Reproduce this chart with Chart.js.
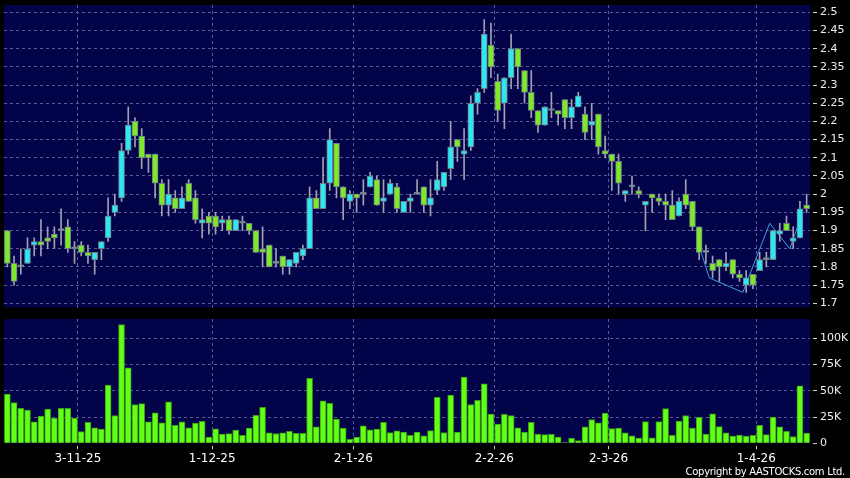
<!DOCTYPE html>
<html>
<head>
<meta charset="utf-8">
<script src="https://cdn.jsdelivr.net/npm/chart.js@4.4.1/dist/chart.umd.min.js"></script>
<style>
  html, body { margin: 0; padding: 0; background: #000; }
  #wrap { position: relative; width: 850px; height: 478px; background: #000; overflow: hidden; }
  #priceChart { position: absolute; left: 0; top: 0; }
  #volChart { position: absolute; left: 0; top: 312px; }
  #copy { position: absolute; right: 5px; top: 466px; color: #fff; font: 10px "DejaVu Sans", sans-serif; letter-spacing: -0.3px; line-height: 11px; white-space: nowrap; }
</style>
</head>
<body>
<div id="wrap">
  <canvas id="priceChart" width="850" height="312"></canvas>
  <canvas id="volChart" width="850" height="166"></canvas>
  <div id="copy">Copyright by AASTOCKS.com Ltd.</div>
</div>
<script>
// daily candles, oldest first
const open  = [1.90,1.81,1.80,1.81,1.86,1.87,1.88,1.89,1.90,1.91, 1.85,1.86,1.84,1.82,1.85,1.88,1.95,1.99,2.12,2.20,
               2.16,2.11,2.11,2.03,1.97,1.99,1.96,2.03,1.99,1.92, 1.94,1.94,1.92,1.93,1.90,1.92,1.92,1.90,1.85,1.86,
               1.81,1.83,1.80,1.81,1.83,1.85,1.99,1.96,2.03,2.14, 2.02,1.98,2.00,2.00,2.02,2.04,1.98,2.00,2.02,1.95,
               1.98,2.00,2.02,1.97,2.01,2.02,2.07,2.15,2.11,2.13, 2.25,2.29,2.41,2.31,2.25,2.32,2.40,2.34,2.28,2.23,
               2.19,2.23,2.23,2.26,2.21,2.24,2.22,2.19,2.22,2.12, 2.11,2.09,2.00,2.02,2.01,1.97,2.00,1.99,1.98,1.97,
               1.94,2.00,1.98,1.91,1.84,1.81,1.82,1.80,1.82,1.78, 1.75,1.78,1.79,1.82,1.82,1.89,1.92,1.87,1.88,1.97];
const high  = [1.90,1.83,1.85,1.88,1.88,1.93,1.91,1.91,1.96,1.93, 1.87,1.87,1.86,1.84,1.87,1.99,2.00,2.14,2.24,2.21,
               2.18,2.11,2.11,2.04,2.04,2.01,2.02,2.04,2.01,1.96, 1.95,1.95,1.94,1.94,1.93,1.94,1.92,1.90,1.91,1.86,
               1.85,1.83,1.82,1.84,1.86,2.02,2.01,2.10,2.18,2.14, 2.02,2.01,2.00,2.04,2.06,2.05,2.04,2.04,2.03,1.98,
               2.00,2.04,2.02,2.04,2.09,2.06,2.20,2.15,2.18,2.27, 2.29,2.48,2.47,2.33,2.32,2.44,2.40,2.34,2.34,2.23,
               2.24,2.28,2.23,2.26,2.26,2.28,2.24,2.25,2.22,2.16, 2.11,2.11,2.01,2.05,2.02,1.98,2.00,2.00,2.00,2.01,
               1.99,2.04,1.98,1.91,1.86,1.83,1.82,1.84,1.82,1.79, 1.79,1.78,1.84,1.84,1.90,1.92,1.94,1.91,1.98,2.00];
const low   = [1.80,1.75,1.78,1.81,1.83,1.83,1.85,1.85,1.86,1.84, 1.81,1.83,1.81,1.78,1.82,1.87,1.94,1.98,2.11,2.13,
               2.07,2.06,1.99,1.94,1.94,1.95,1.96,1.98,1.92,1.88, 1.89,1.89,1.90,1.89,1.90,1.90,1.89,1.84,1.80,1.80,
               1.80,1.78,1.78,1.80,1.82,1.85,1.96,1.96,2.01,1.99, 1.93,1.96,1.95,1.97,2.02,1.97,1.95,2.00,1.95,1.95,
               1.95,2.00,1.95,1.94,2.00,2.01,2.04,2.09,2.04,2.12, 2.22,2.28,2.32,2.20,2.18,2.29,2.29,2.25,2.21,2.17,
               2.19,2.21,2.19,2.18,2.18,2.24,2.15,2.15,2.11,2.10, 2.01,2.00,1.98,2.00,1.99,1.90,1.95,1.97,1.93,1.93,
               1.94,1.96,1.90,1.82,1.81,1.77,1.76,1.79,1.77,1.76, 1.73,1.74,1.79,1.80,1.82,1.87,1.90,1.85,1.88,1.95];
const close = [1.81,1.76,1.80,1.85,1.87,1.86,1.87,1.88,1.90,1.85, 1.85,1.84,1.83,1.84,1.87,1.94,1.97,2.12,2.19,2.16,
               2.10,2.10,2.03,1.97,2.00,1.96,1.99,1.98,1.93,1.93, 1.92,1.91,1.93,1.90,1.93,1.92,1.90,1.84,1.84,1.80,
               1.81,1.80,1.82,1.84,1.85,1.99,1.96,2.03,2.15,2.02, 1.99,2.00,1.99,2.00,2.05,1.97,1.99,2.03,1.96,1.98,
               1.99,2.00,1.97,1.99,2.04,2.06,2.13,2.13,2.12,2.25, 2.28,2.44,2.35,2.23,2.32,2.40,2.35,2.28,2.23,2.19,
               2.24,2.23,2.22,2.21,2.24,2.27,2.17,2.20,2.13,2.11, 2.09,2.03,2.01,2.02,2.00,1.98,1.99,1.98,1.97,1.93,
               1.98,1.97,1.91,1.84,1.84,1.79,1.80,1.81,1.78,1.77, 1.77,1.75,1.82,1.82,1.90,1.90,1.90,1.88,1.96,1.96];
const volume = [46800,38800,33300,31700,20500,26000,32700,24000,33300,33300, 24000,11200,19900,14700,13500,55400,26300,113000,72000,37000,
                37800,20500,29000,19500,39400,17000,20500,14700,19200,21000, 6000,13800,8700,9300,12500,7700,14400,26600,34300,10000,
                9300,10000,11500,9600,9600,62000,15700,40400,38000,23000, 14400,3800,6000,16700,12800,13500,19900,10300,11900,10600,
                7700,10600,7000,12200,43900,10300,46000,10600,63000,36900, 41000,56700,27900,18300,27600,26300,14700,10600,20000,8700,
                8300,8500,6000,800,4700,2500,15800,22700,19500,28700, 14000,14400,10000,7200,5000,20700,5200,20700,33000,7700,
                21200,26300,14500,24800,8700,28000,16000,10000,6800,7800, 6800,7700,17200,8300,25000,15800,11300,6500,54700,9800];

// date axis: first trading day of each month and its candle index
const dateLabels = ['3-11-25', '1-12-25', '2-1-26', '2-2-26', '2-3-26', '1-4-26'];
const dateIdx = [10, 30, 51, 72, 89, 111];

const priceTicks = [2.5, 2.45, 2.4, 2.35, 2.3, 2.25, 2.2, 2.15, 2.1, 2.05, 2, 1.95, 1.9, 1.85, 1.8, 1.75, 1.7];
const volTicks = [0, 25000, 50000, 75000, 100000];

// pattern line drawn on the last swing
const patternX = [103.3, 104.5, 109.5, 113.5, 116.5, 118];
const patternY = [1.84, 1.77, 1.73, 1.92, 1.85, 1.93];

const NAVY = '#03034a';
const GRID = '#575b96';
const UP = '#2fe6f2';
const DOWN = '#7ee82a';
const FLAT = '#a0a0b0';
const FONT = 'DejaVu Sans';

const panelBg = {
  id: 'panelBg',
  beforeDraw(chart) {
    const { ctx, chartArea: a } = chart;
    ctx.save();
    ctx.fillStyle = NAVY;
    ctx.fillRect(a.left, a.top, a.right - a.left, a.bottom - a.top);
    ctx.restore();
  }
};

const dateTicks = scale => { scale.ticks = dateIdx.map(i => ({ value: i + 0.5 })); };
// keep the plot area where the layout padding puts it
const noEdgePad = s => { s.paddingTop = 0; s.paddingBottom = 0; s.paddingLeft = 0; s.paddingRight = 0; };

const bodies = open.map((o, i) => ({ x: i, y: [o, close[i]] }));
const wicks = low.map((l, i) => ({ x: i, y: [l, high[i]] }));

new Chart(document.getElementById('priceChart'), {
  data: {
    datasets: [
      {
        type: 'line',
        data: patternX.map((x, k) => ({ x: x, y: patternY[k] })),
        borderColor: '#3d9fe2',
        borderWidth: 1,
        pointRadius: 0,
        order: 3
      },
      {
        type: 'bar',
        data: wicks,
        backgroundColor: FLAT,
        barThickness: 1,
        grouped: false,
        order: 2
      },
      {
        type: 'bar',
        data: bodies,
        backgroundColor: ctx => {
          const i = ctx.dataIndex;
          if (close[i] > open[i]) return UP;
          if (close[i] < open[i]) return DOWN;
          return FLAT;
        },
        borderColor: '#6c7c84',
        borderWidth: 1,
        borderSkipped: false,
        barThickness: 6,
        minBarLength: 2,
        grouped: false,
        order: 1
      }
    ]
  },
  options: {
    responsive: false,
    animation: false,
    devicePixelRatio: 1,
    layout: { padding: { left: 4, top: 5, right: 0, bottom: 4.5 } },
    plugins: { legend: { display: false }, tooltip: { enabled: false } },
    scales: {
      x: {
        type: 'linear',
        offset: false,
        min: -0.5,
        max: 119.5,
        afterBuildTicks: dateTicks,
        afterFit: s => { s.height = 0; noEdgePad(s); },
        ticks: { display: false },
        grid: { color: GRID, drawTicks: false, offset: false },
        border: { display: false, dash: [3, 3] }
      },
      y: {
        position: 'right',
        min: 1.6885,
        max: 2.52,
        afterBuildTicks: s => { s.ticks = priceTicks.map(v => ({ value: v })); },
        afterFit: s => { s.width = 40; noEdgePad(s); },
        ticks: {
          autoSkip: false,
          color: '#eeeeee',
          padding: 3,
          font: { family: FONT, size: 11 },
          callback: v => String(v)
        },
        grid: { color: GRID, tickColor: '#d0d0d0', tickLength: 7, tickBorderDash: [0, 3, 4, 20] },
        border: { display: false, dash: [3, 3] }
      }
    }
  },
  plugins: [panelBg]
});

new Chart(document.getElementById('volChart'), {
  type: 'bar',
  data: {
    datasets: [{
      data: volume.map((v, i) => ({ x: i, y: v })),
      backgroundColor: '#62ff17',
      borderColor: '#3a9a12',
      borderWidth: 1,
      borderSkipped: 'bottom',
      barThickness: 6
    }]
  },
  options: {
    responsive: false,
    animation: false,
    devicePixelRatio: 1,
    layout: { padding: { left: 4, top: 7, right: 0, bottom: 0 } },
    plugins: { legend: { display: false }, tooltip: { enabled: false } },
    scales: {
      x: {
        type: 'linear',
        offset: false,
        min: -0.5,
        max: 119.5,
        afterBuildTicks: dateTicks,
        afterFit: s => { s.height = 34.7; noEdgePad(s); },
        ticks: {
          autoSkip: false,
          maxRotation: 0,
          color: '#ffffff',
          padding: 2,
          font: { family: FONT, size: 12 },
          callback: (v, k) => dateLabels[k]
        },
        grid: { color: GRID, tickColor: '#d0d0d0', tickLength: 6, tickBorderDash: [0, 3, 3], offset: false },
        border: { display: false, dash: [3, 3] }
      },
      y: {
        position: 'right',
        min: 0,
        max: 118400,
        afterBuildTicks: s => { s.ticks = volTicks.map(v => ({ value: v })); },
        afterFit: s => { s.width = 40; noEdgePad(s); },
        ticks: {
          autoSkip: false,
          color: '#eeeeee',
          padding: 3,
          font: { family: FONT, size: 11 },
          callback: v => v === 0 ? '0' : (v / 1000) + 'K'
        },
        grid: {
          color: ctx => (ctx.tick && ctx.tick.value === 0) ? 'rgba(0,0,0,0)' : GRID,
          tickColor: '#d0d0d0',
          tickLength: 7,
          tickBorderDash: [0, 3, 4, 20]
        },
        border: { display: false, dash: [3, 3] }
      }
    }
  },
  plugins: [panelBg]
});
</script>
</body>
</html>
